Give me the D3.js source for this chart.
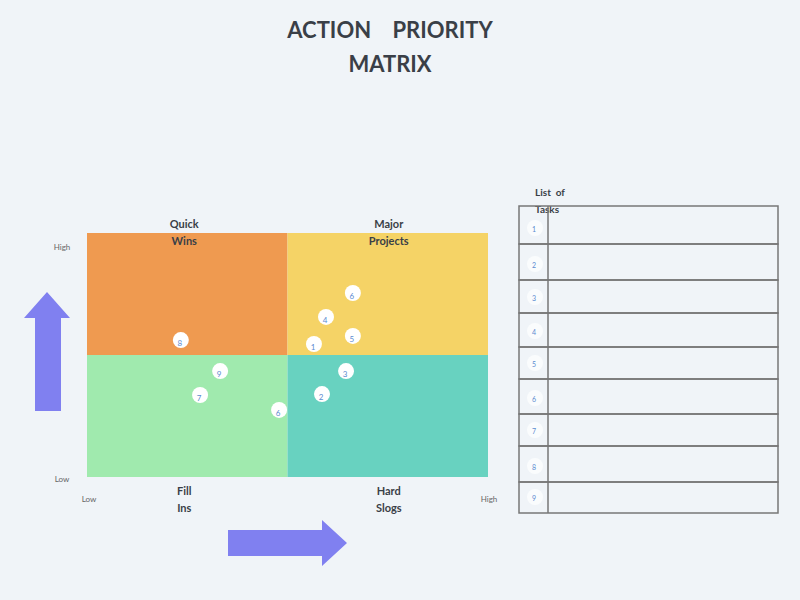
<!DOCTYPE html>
<html><head><meta charset="utf-8">
<script src="https://cdn.jsdelivr.net/npm/d3@7"></script>
<style>body{margin:0;background:#f0f4f8;font-family:Lato,sans-serif}</style>
</head><body>
<svg id="c" width="800" height="600"></svg>
<script>
const quadrants = [
  {name:["Quick","Wins"], x0:0,x1:5,y0:5,y1:10,color:"#ef9a50"},
  {name:["Major","Projects"], x0:5,x1:10,y0:5,y1:10,color:"#f5d366"},
  {name:["Fill","Ins"], x0:0,x1:5,y0:0,y1:5,color:"#a0eaae"},
  {name:["Hard","Slogs"], x0:5,x1:10,y0:0,y1:5,color:"#68d2c0"}
];
const taskLabels = ["8","6","4","5","1","9","3","7","2","6"];
const taskX = [2.34,6.63,5.96,6.63,5.66,3.32,6.46,2.82,5.86,4.79];
const taskY = [5.61,7.54,6.56,5.78,5.45,4.34,4.34,3.36,3.40,2.75];
const listNumbers = ["1","2","3","4","5","6","7","8","9"];
const rowEdges = [206,244,280,313,347,379,414,446,482,513];

const svg = d3.select("#c");
svg.append("rect").attr("width",800).attr("height",600).attr("fill","#f0f4f8");
const x = d3.scaleLinear().domain([0,10]).range([87,488]);
const y = d3.scaleLinear().domain([0,10]).range([477,233]);
const ink = "#3a3f47";

svg.append("text").attr("x",390).attr("y",38).attr("text-anchor","middle").attr("font-size",22).attr("font-weight","bold").attr("fill",ink).attr("xml:space","preserve").text("ACTION    PRIORITY");
svg.append("text").attr("x",390).attr("y",72).attr("text-anchor","middle").attr("font-size",22).attr("font-weight","bold").attr("fill",ink).text("MATRIX");

svg.selectAll(".q").data(quadrants).enter().append("rect")
  .attr("x",d=>x(d.x0)).attr("y",d=>y(d.y1)).attr("width",d=>x(d.x1)-x(d.x0)).attr("height",d=>y(d.y0)-y(d.y1)).attr("fill",d=>d.color);

quadrants.forEach(q=>{
  const cx = x((q.x0+q.x1)/2)-(q.x0===0?3:-1);
  const top = q.y0===5 ? 228 : 495;
  q.name.forEach((t,i)=>svg.append("text").attr("x",cx).attr("y",top+i*17).attr("text-anchor","middle")
    .attr("font-size",11).attr("font-weight","bold").attr("fill",ink).text(t));
});

const small = (t,px,py,anchor)=>svg.append("text").attr("x",px).attr("y",py).attr("text-anchor",anchor||"middle").attr("font-size",8).attr("fill","#666").text(t);
small("High",62,250); small("Low",62,482); small("Low",89,502); small("High",489,502);

const g = svg.selectAll(".t").data(taskLabels).enter().append("g");
g.append("circle").attr("cx",(d,i)=>x(taskX[i])).attr("cy",(d,i)=>y(taskY[i])).attr("r",8).attr("fill","#fff");
g.append("text").attr("x",(d,i)=>x(taskX[i])-1).attr("y",(d,i)=>y(taskY[i])+6).attr("text-anchor","middle").attr("font-size",8).attr("fill","#5b8bd0").text(d=>d);

// arrows
svg.append("path").attr("d","M35,411 L35,318 L24,318 L47,292 L70,318 L61,318 L61,411 Z").attr("fill","#8080f0");
svg.append("path").attr("d","M228,530 L322,530 L322,520 L347,543 L322,566 L322,556 L228,556 Z").attr("fill","#8080f0");

// table
svg.append("text").attr("x",535).attr("y",196).attr("font-size",10).attr("font-weight","bold").attr("fill",ink).attr("xml:space","preserve").text("List  of");
svg.append("text").attr("x",535).attr("y",213).attr("font-size",10).attr("font-weight","bold").attr("fill",ink).text("Tasks");
const tb = svg.append("g").attr("stroke","#777").attr("stroke-width",1.5).attr("fill","none");
listNumbers.forEach((n,i)=>{
  tb.append("rect").attr("x",519).attr("y",rowEdges[i]).attr("width",259).attr("height",rowEdges[i+1]-rowEdges[i]);
});
tb.append("line").attr("x1",548).attr("x2",548).attr("y1",206).attr("y2",513);
listNumbers.forEach((n,i)=>{
  const cy = rowEdges[i+1]-12;
  svg.append("circle").attr("cx",535).attr("cy",cy-4).attr("r",8).attr("fill","#fafcfd");
  svg.append("text").attr("x",534).attr("y",cy).attr("text-anchor","middle").attr("font-size",7).attr("fill","#5b8bd0").text(n);
});
</script>
</body></html>
